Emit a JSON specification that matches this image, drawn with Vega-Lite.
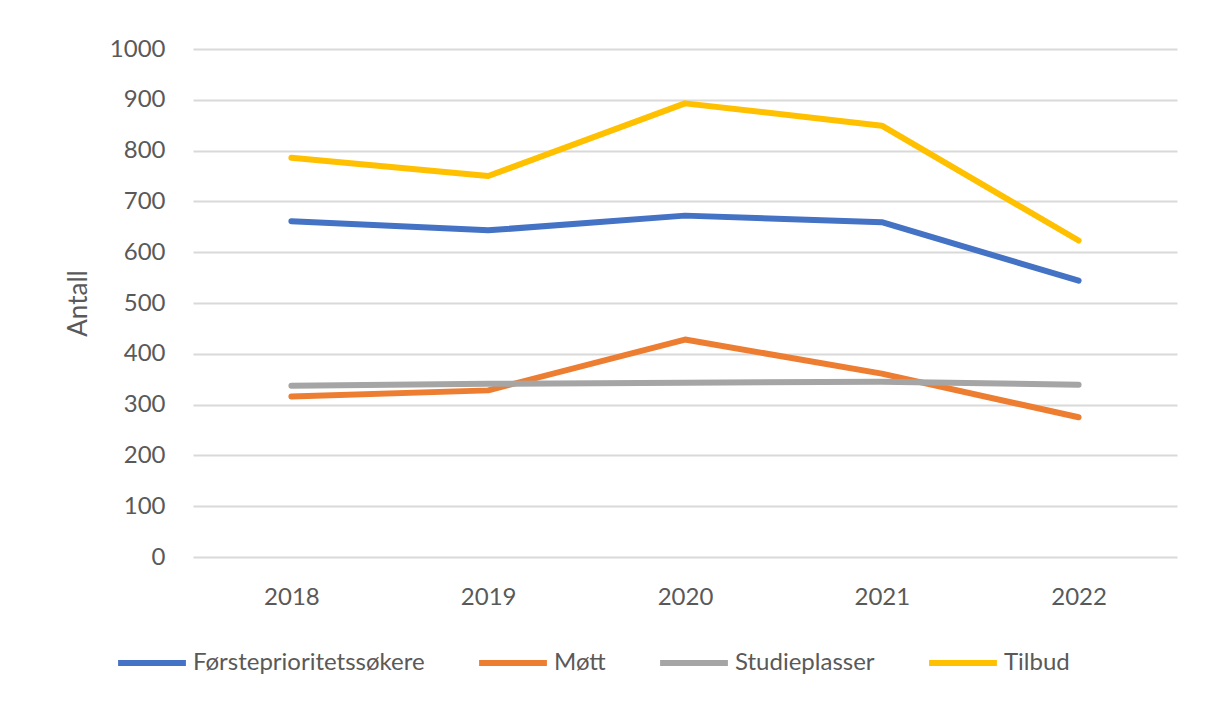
{
  "$schema": "https://vega.github.io/schema/vega-lite/v6.json",
  "autosize": {"type": "none"},
  "width": 984,
  "height": 508,
  "padding": {"left": 193, "top": 49, "right": 28, "bottom": 150},
  "background": "white",
  "config": {
    "font": "Lato",
    "view": {"stroke": null}
  },
  "data": {
    "values": [
      {"year": "2018", "series": "Førsteprioritetssøkere", "value": 661},
      {"year": "2019", "series": "Førsteprioritetssøkere", "value": 643},
      {"year": "2020", "series": "Førsteprioritetssøkere", "value": 672},
      {"year": "2021", "series": "Førsteprioritetssøkere", "value": 659},
      {"year": "2022", "series": "Førsteprioritetssøkere", "value": 544},
      {"year": "2018", "series": "Møtt", "value": 316},
      {"year": "2019", "series": "Møtt", "value": 328},
      {"year": "2020", "series": "Møtt", "value": 428},
      {"year": "2021", "series": "Møtt", "value": 361},
      {"year": "2022", "series": "Møtt", "value": 275},
      {"year": "2018", "series": "Studieplasser", "value": 337},
      {"year": "2019", "series": "Studieplasser", "value": 341},
      {"year": "2020", "series": "Studieplasser", "value": 343},
      {"year": "2021", "series": "Studieplasser", "value": 345},
      {"year": "2022", "series": "Studieplasser", "value": 339},
      {"year": "2018", "series": "Tilbud", "value": 786},
      {"year": "2019", "series": "Tilbud", "value": 750},
      {"year": "2020", "series": "Tilbud", "value": 893},
      {"year": "2021", "series": "Tilbud", "value": 849},
      {"year": "2022", "series": "Tilbud", "value": 623}
    ]
  },
  "mark": {"type": "line", "strokeWidth": 6, "strokeCap": "round", "strokeJoin": "round"},
  "encoding": {
    "x": {
      "field": "year",
      "type": "ordinal",
      "scale": {"type": "point", "padding": 0.5},
      "axis": {
        "title": null,
        "labelAngle": 0,
        "labelFontSize": 24,
        "labelColor": "#595959",
        "labelPadding": 28,
        "ticks": false,
        "domain": false,
        "grid": false
      }
    },
    "y": {
      "field": "value",
      "type": "quantitative",
      "scale": {"domain": [0, 1000]},
      "axis": {
        "title": "Antall",
        "titleFontSize": 26,
        "titleFontWeight": "normal",
        "titleColor": "#595959",
        "titlePadding": 18,
        "format": "d",
        "values": [0, 100, 200, 300, 400, 500, 600, 700, 800, 900, 1000],
        "labelFontSize": 24,
        "labelColor": "#595959",
        "labelPadding": 28,
        "ticks": false,
        "domain": false,
        "grid": true,
        "gridColor": "#d9d9d9",
        "gridWidth": 2
      }
    },
    "color": {
      "field": "series",
      "type": "nominal",
      "scale": {
        "domain": ["Førsteprioritetssøkere", "Møtt", "Studieplasser", "Tilbud"],
        "range": ["#4472C4", "#ED7D31", "#A5A5A5", "#FFC000"]
      },
      "legend": {
        "title": null,
        "orient": "none",
        "direction": "horizontal",
        "legendX": -78,
        "legendY": 577,
        "symbolType": "stroke",
        "symbolSize": 4600,
        "symbolStrokeWidth": 6,
        "labelFontSize": 24,
        "labelLimit": 400,
        "labelColor": "#595959",
        "labelOffset": 4,
        "columnPadding": 42
      }
    }
  }
}
